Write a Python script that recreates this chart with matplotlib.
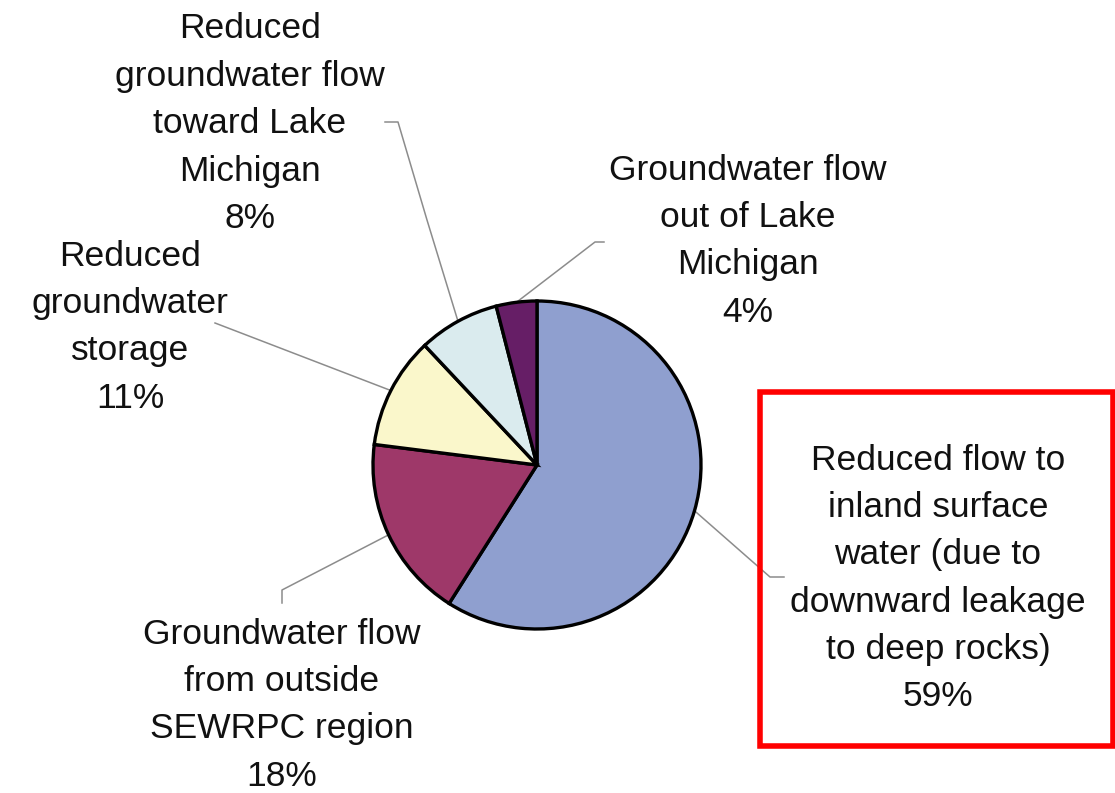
import numpy as np
import matplotlib
matplotlib.use("Agg")
import matplotlib.pyplot as plt
from matplotlib.patches import Rectangle

plt.rcParams['font.family'] = ['Liberation Sans', 'DejaVu Sans']

# Sources of water to pumped wells, clockwise from 12 o'clock
categories = [
    "Reduced flow to\ninland surface\nwater (due to\ndownward leakage\nto deep rocks)",
    "Groundwater flow\nfrom outside\nSEWRPC region",
    "Reduced\ngroundwater\nstorage",
    "Reduced\ngroundwater flow\ntoward Lake\nMichigan",
    "Groundwater flow\nout of Lake\nMichigan",
]
shares = [59, 18, 11, 8, 4]
colors = ["#8f9fcf", "#9e3869", "#faf7cb", "#daebee", "#661e66"]

W, H = 1115, 793
fig = plt.figure(figsize=(W / 100, H / 100), dpi=100)
ax = fig.add_axes([0, 0, 1, 1])

cx, cy, r = 537, H - 465, 164
wedges, _ = ax.pie(shares, colors=colors, startangle=90, counterclock=False,
                   center=(cx, cy), radius=r,
                   wedgeprops=dict(edgecolor="black", linewidth=2.4))

ax.set_xlim(0, W)
ax.set_ylim(0, H)
ax.set_aspect("equal")
ax.axis("off")

# label centre x and first-line centre y, plus leader elbow path per slice
label_pos = [(938, 460), (282, 634), (130, 256), (250, 29), (748, 170)]
leader_path = [
    [(770, 577), (784, 577)],
    [(282, 590), (282, 603)],
    [(215, 323)],
    [(427, 220), (398, 122), (385, 122)],
    [(595, 242), (604, 242)],
]
line_step = 47.4

for w, v, lab, (tx, ty), path in zip(wedges, shares, categories, label_pos, leader_path):
    mid = np.deg2rad((w.theta1 + w.theta2) / 2)
    sx, sy = cx + r * np.cos(mid), cy + r * np.sin(mid)
    xs = [sx] + [p[0] for p in path]
    ys = [sy] + [H - p[1] for p in path]
    ax.plot(xs, ys, color="#8c8c8c", lw=1.1, zorder=0)
    lines = lab.split("\n") + [f"{v}%"]
    for i, line in enumerate(lines):
        ax.text(tx, H - (ty + i * line_step), line, ha="center", va="center",
                fontsize=25.5, color="#111111")

# highlight box around the dominant source
ax.add_patch(Rectangle((760, H - 746), 353, 354, fill=False,
                       edgecolor="#ff0000", linewidth=4, zorder=5))

fig.savefig("out.png", dpi=100)
